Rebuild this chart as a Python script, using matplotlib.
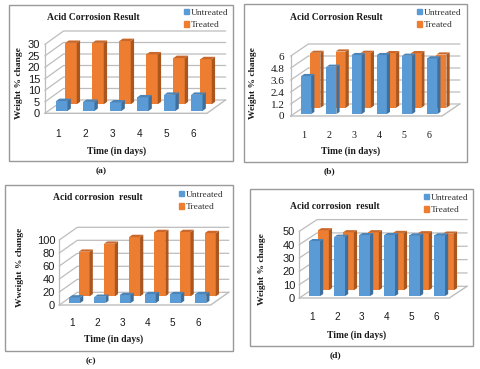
import matplotlib
matplotlib.use("Agg")
import matplotlib.pyplot as plt
from matplotlib.patches import Rectangle, Patch
import numpy as np

plt.rcParams['font.family'] = ['Liberation Serif', 'DejaVu Serif']

days = ["1", "2", "3", "4", "5", "6"]

untreated_a = [4.3, 3.9, 3.7, 5.9, 7.0, 7.0]
treated_a = [26.7, 26.7, 27.5, 21.7, 20.1, 19.6]
ticks_a = [0, 5, 10, 15, 20, 25, 30]

untreated_b = [3.8, 4.73, 5.9, 5.9, 5.83, 5.57]
treated_b = [5.5, 5.63, 5.5, 5.47, 5.47, 5.33]
ticks_b = [0, 1.2, 2.4, 3.6, 4.8, 6]

untreated_c = [8.7, 9.7, 12.3, 13.8, 13.8, 13.8]
treated_c = [68.7, 81, 91.3, 99, 99, 97.4]
ticks_c = [0, 20, 40, 60, 80, 100]

untreated_d = [41.25, 44.5, 45.75, 45.75, 45.5, 45.5]
treated_d = [45, 43.5, 43.5, 43, 42.75, 42.5]
ticks_d = [0, 10, 20, 30, 40, 50]

W, H = 480, 369
BLUE = ("#5B9BD5", "#3F6F9C", "#4A84B8")
ORANGE = ("#ED7D31", "#A9561F", "#C9682A")
GRID = "#BDBDBD"
TEXT = "#1a1a1a"


def fx(x):
    return x / W


def fy(y):
    return 1 - y / H


def draw_series(ax, vals, color, depth, dep_x, dep_y, width):
    # depth = fraction of floor depth where the bar front sits, bars go back 0.18
    xs = np.arange(len(vals)) + 0.5
    off_x, off_y = depth * dep_x, depth * dep_y
    bx, by = 0.18 * dep_x, 0.18 * dep_y
    ax.bar(xs + off_x, vals, width, bottom=off_y, color=color[0], clip_on=False, zorder=3)
    for x, v in zip(xs + off_x, vals):
        r = x + width / 2
        l = x - width / 2
        t = off_y + v
        ax.fill([r, r + bx, r + bx, r], [off_y, off_y + by, t + by, t],
                color=color[1], lw=0, clip_on=False, zorder=3)
        ax.fill([l, l + bx, r + bx, r], [t, t + by, t + by, t],
                color=color[2], lw=0, clip_on=False, zorder=3)


def panel(box, plot, dep, unt, trt, ticks, tick_font, tlab, ylab, title, title_xy,
          ylab_xy, xlab_xy, cap, cap_xy, leg_xy, d_unt=0.18, d_trt=0.68, bar_w=0.42, tick_size=7.2):
    fig.add_artist(Rectangle((fx(box[0]), fy(box[3])), (box[2] - box[0]) / W, (box[3] - box[1]) / H,
                             transform=fig.transFigure, fill=False, ec="#999999", lw=1.0))
    left, right, bottom, top = plot
    ax = fig.add_axes([fx(left), fy(bottom), (right - left) / W, (bottom - top) / H])
    ax.patch.set_visible(False)
    ymax = ticks[-1]
    ax.set_xlim(0, 6)
    ax.set_ylim(0, ymax)
    dep_x = dep[0] / ((right - left) / 6)
    dep_y = dep[1] / ((bottom - top) / ymax)

    # walls
    for t in ticks:
        ax.plot([0, dep_x, 6 + dep_x], [t, t + dep_y, t + dep_y], color=GRID, lw=0.9, clip_on=False, zorder=1)
    ax.plot([0, 6, 6 + dep_x], [0, 0, dep_y], color=GRID, lw=1.0, clip_on=False, zorder=1)
    ax.plot([0, 0], [0, ymax], color=GRID, lw=0.9, clip_on=False, zorder=1)

    draw_series(ax, trt, ORANGE, d_trt, dep_x, dep_y, bar_w)
    draw_series(ax, unt, BLUE, d_unt, dep_x, dep_y, bar_w)

    for s in ax.spines.values():
        s.set_visible(False)
    ax.set_xticks(np.arange(6) + 0.5, days)
    ax.set_yticks(ticks, tlab)
    ax.tick_params(axis='x', length=0, pad=tick_font[1], labelsize=tick_size, labelcolor=TEXT)
    ax.tick_params(axis='y', length=0, pad=tick_font[2], labelsize=tick_size + 0.8, labelcolor=TEXT)
    for lb in ax.get_xticklabels() + ax.get_yticklabels():
        lb.set_family(tick_font[0])

    fig.text(fx(title_xy[0]), fy(title_xy[1]), title, ha='center', va='center', weight='bold', fontsize=6.9, color=TEXT)
    fig.text(fx(ylab_xy[0]), fy(ylab_xy[1]), ylab, ha='center', va='center', rotation=90, weight='bold', fontsize=6.8, color=TEXT)
    fig.text(fx(xlab_xy[0]), fy(xlab_xy[1]), "Time (in days)", ha='center', va='center', weight='bold', fontsize=6.9, color=TEXT)
    fig.text(fx(cap_xy[0]), fy(cap_xy[1]), cap, ha='center', va='center', weight='bold', fontsize=6.8, color=TEXT)

    handles = [Patch(color=BLUE[0], label="Untreated"), Patch(color=ORANGE[0], label="Treated")]
    fig.legend(handles=handles, loc='upper left', bbox_to_anchor=(fx(leg_xy[0]), fy(leg_xy[1])),
               frameon=False, fontsize=6.8, handlelength=0.55, handleheight=0.55, handletextpad=0.2,
               labelspacing=0.48, borderpad=0, borderaxespad=0, labelcolor="#333333")


fig = plt.figure(figsize=(4.8, 3.69), dpi=100)

panel((9, 5, 233, 161), (45, 207, 113.3, 44.3), (18.5, 13.3), untreated_a, treated_a, ticks_a,
      ("Liberation Sans", 11, 3.5), [str(t) for t in ticks_a], "Weight % change", "Acid Corrosion Result",
      (93, 17), (19, 83), (117, 151), "(a)", (101, 171), (183.5, 8.5))

panel((244, 4, 467, 162), (290.7, 442, 116, 56), (17.7, 12), untreated_b, treated_b, ticks_b,
      ("Liberation Serif", 11, 4.5), ["0", "1.2", "2.4", "3.6", "4.8", "6"], "Weight % change", "Acid Corrosion Result",
      (336, 17), (253, 83), (351, 151), "(b)", (329, 171), (416.5, 8.5), d_unt=0.16, d_trt=0.68, bar_w=0.4)

panel((5, 185, 233, 351), (59.3, 210.7, 305, 240), (18, 12.7), untreated_c, treated_c, ticks_c,
      ("Liberation Sans", 9, 3), [str(t) for t in ticks_c], "Wweight % change", "Acid corrosion  result",
      (98, 198), (20, 267), (114, 339), "(c)", (91, 361), (178.5, 190.5), d_unt=0.15, d_trt=0.68, bar_w=0.43)

panel((250, 189, 473, 346), (299.3, 449.3, 298, 231.3), (17.7, 11.7), untreated_d, treated_d, ticks_d,
      ("Liberation Sans", 10, 3), [str(t) for t in ticks_d], "Weight % change", "Acid corrosion  result",
      (335, 206), (262, 269), (357, 335), "(d)", (335, 355), (423.5, 193.5), d_unt=0.16, d_trt=0.66, bar_w=0.43)

fig.savefig("out.png", dpi=100)
